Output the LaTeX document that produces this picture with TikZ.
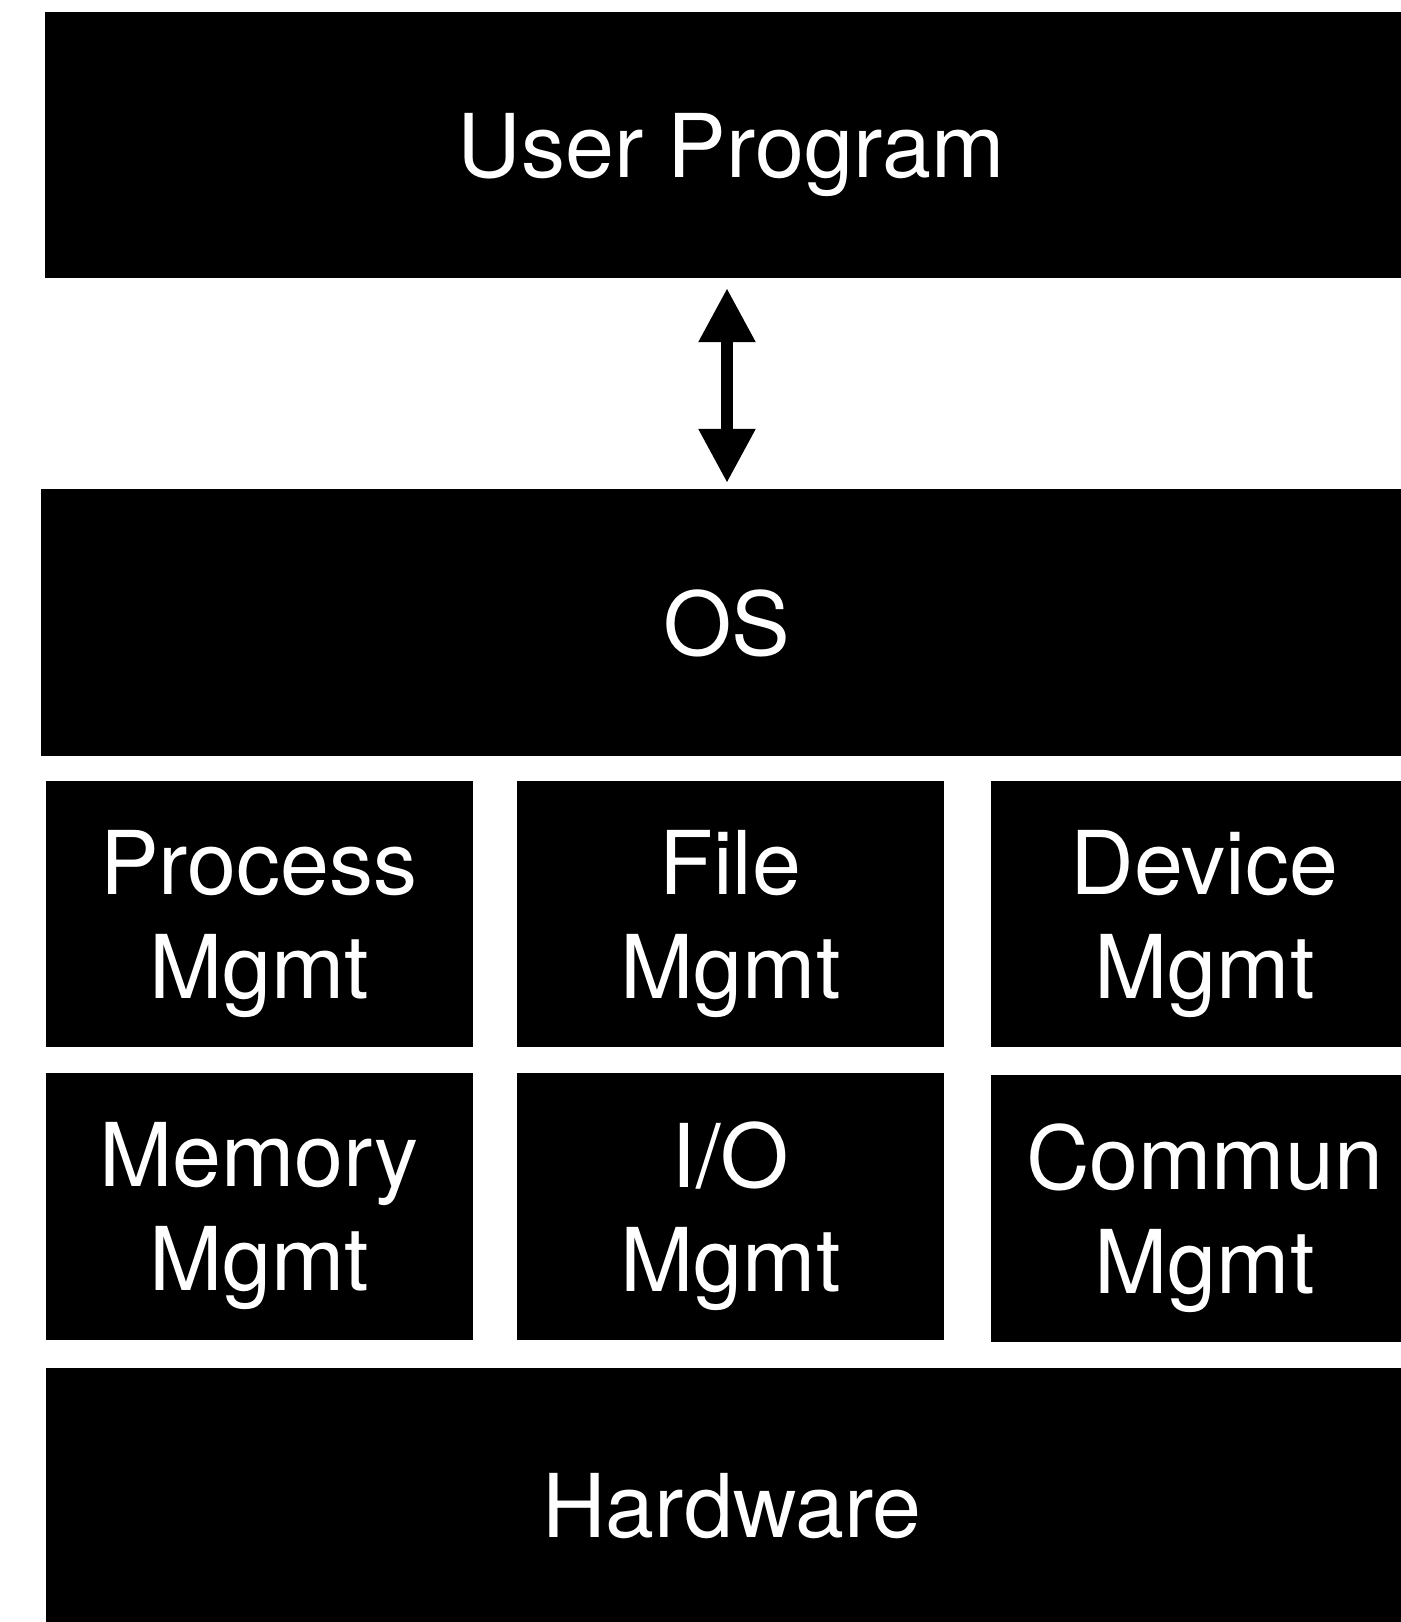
\documentclass[tikz,border=0pt]{standalone}
\usepackage{fontspec}
\setmainfont{TeX Gyre Heros}
\usetikzlibrary{arrows.meta}

\tikzset{
    layer/.style={fill=black, text=white, inner sep=0pt, align=center, text depth=0pt,
        font=\fontsize{88}{104}\selectfont},
    link/.style={line width=12pt, {Triangle[width=54pt,length=54pt]}-{Triangle[width=54pt,length=54pt]}}
}

\begin{document}
\begin{tikzpicture}[x=1pt, y=-1pt]
    \useasboundingbox (0,0) rectangle (1400,1622);
    \node [layer, minimum width=1373pt, minimum height=266pt] (user) at (731,145) {User Program};
    \node [layer, minimum width=1372pt, minimum height=267pt] (os) at (727,622.5) {OS};
    \node [layer, minimum width=427pt, minimum height=266pt] (proc) at (259,914) {Process\\Mgmt};
    \node [layer, minimum width=427pt, minimum height=266pt] (file) at (730.5,914) {File\\Mgmt};
    \node [layer, minimum width=427pt, minimum height=266pt] (dev) at (1204.5,914) {Device\\Mgmt};
    \node [layer, minimum width=427pt, minimum height=267pt] (mem) at (259,1206.5) {Memory\\Mgmt};
    \node [layer, minimum width=427pt, minimum height=267pt] (io) at (730.5,1206.5) {I/O\\Mgmt};
    \node [layer, minimum width=427pt, minimum height=267pt] (comm) at (1204.5,1208.5) {Commun\\Mgmt};
    \node [layer, minimum width=1373pt, minimum height=274pt] (hw) at (732,1505) {Hardware};
    \draw [link, shorten <=10pt, shorten >=6pt] (user.south -| os.north) -- (os.north);
\end{tikzpicture}
\end{document}
